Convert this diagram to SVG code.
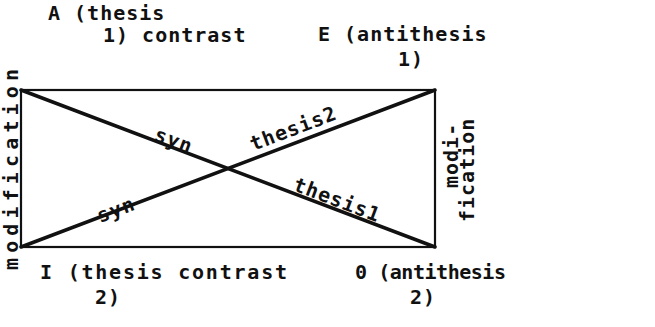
<svg xmlns="http://www.w3.org/2000/svg" width="655" height="327" viewBox="0 0 655 327">
<style>
text{font-family:"DejaVu Sans Mono","Liberation Mono",monospace;font-size:20px;font-weight:bold;fill:#111;letter-spacing:1px}
.edge{stroke:#111;stroke-width:2.2;fill:none}
.diag{stroke:#111;stroke-width:3.5;fill:none;stroke-linecap:round}
</style>
<rect width="655" height="327" fill="#fff"/>
<g id="connectors">
<rect class="edge" x="21" y="90" width="414" height="157"/>
<line class="diag" x1="21" y1="90" x2="435" y2="247"/>
<line class="diag" x1="21" y1="247" x2="435" y2="90"/>
<text transform="translate(153,140) rotate(20.7)">syn</text>
<text transform="translate(292,190) rotate(20.7)">thesis1</text>
<text transform="translate(100,223) rotate(-20.7)">syn</text>
<text transform="translate(253,151) rotate(-20.7)">thesis2</text>
</g>
<g id="node-A"><text x="48" y="20">A (thesis</text><text x="103" y="42">1) contrast</text></g>
<g id="node-E"><text x="318" y="41">E (antithesis</text><text x="398" y="66">1)</text></g>
<g id="node-I"><text x="40" y="279" textLength="248" lengthAdjust="spacing">I (thesis contrast</text><text x="95" y="304">2)</text></g>
<g id="node-O"><text x="355" y="279" textLength="152" lengthAdjust="spacing">0 (antithesis</text><text x="410" y="304">2)</text></g>
<g id="label-left"><text transform="translate(18,270) rotate(-90)" textLength="202" lengthAdjust="spacing">modification</text></g>
<g id="label-right"><text transform="translate(458,188) rotate(-90)">modi-</text><text transform="translate(474,222) rotate(-90)">fication</text></g>
</svg>
